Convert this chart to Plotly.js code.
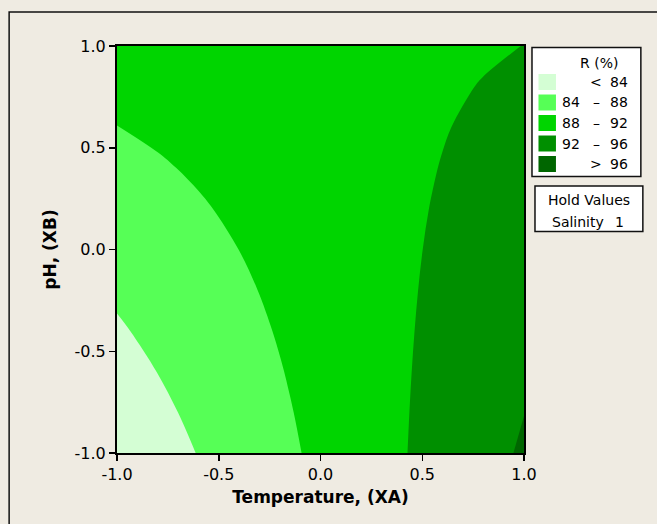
<!DOCTYPE html>
<html>
<head>
<meta charset="utf-8">
<script src="https://cdn.plot.ly/plotly-3.0.1.min.js"></script>
<style>
html,body{margin:0;padding:0;background:#EFEBE2;}
#chart{width:657px;height:524px;}
</style>
</head>
<body>
<div id="chart"></div>
<script>
// Grid of the response surface (Temperature XA, pH XB), Salinity held at 1
var xa = [-1.0, -0.8, -0.6, -0.4, -0.2, 0.0, 0.2, 0.4, 0.6, 0.8, 1.0];
var xb = [-1.0, -0.8, -0.6, -0.4, -0.2, 0.0, 0.2, 0.4, 0.6, 0.8, 1.0];
// R (%) values, one row per pH value
var rows = [
  [81.030, 82.567, 84.104, 85.641, 87.178, 88.715, 90.252, 91.789, 93.326, 94.863, 96.400],
  [81.896, 83.302, 84.709, 86.115, 87.522, 88.928, 90.334, 91.741, 93.147, 94.554, 95.960],
  [82.762, 84.038, 85.314, 86.589, 87.865, 89.141, 90.417, 91.693, 92.968, 94.244, 95.520],
  [83.628, 84.773, 85.918, 87.064, 88.209, 89.354, 90.499, 91.644, 92.790, 93.935, 95.080],
  [84.494, 85.509, 86.523, 87.538, 88.552, 89.567, 90.582, 91.596, 92.611, 93.625, 94.640],
  [85.360, 86.244, 87.128, 88.012, 88.896, 89.780, 90.664, 91.548, 92.432, 93.316, 94.200],
  [86.226, 86.979, 87.733, 88.486, 89.240, 89.993, 90.746, 91.500, 92.253, 93.007, 93.760],
  [87.092, 87.715, 88.338, 88.960, 89.583, 90.206, 90.829, 91.452, 92.074, 92.697, 93.320],
  [87.958, 88.450, 88.942, 89.435, 89.927, 90.419, 90.911, 91.403, 91.896, 92.388, 92.880],
  [88.824, 89.186, 89.547, 89.909, 90.270, 90.632, 90.994, 91.355, 91.717, 92.078, 92.440],
  [89.690, 89.921, 90.152, 90.383, 90.614, 90.845, 91.076, 91.307, 91.538, 91.769, 92.020]
];
var levels = [84, 88, 92, 96];
var bandColors = ['#D4FED4', '#56FF56', '#00D500', '#008F00', '#006600'];
var bandLeft  = ['', '84', '88', '92', ''];
var bandSym   = ['<', '–', '–', '–', '>'];
var bandRight = ['84', '88', '92', '96', '96'];
var tickVals = [-1.0, -0.5, 0.0, 0.5, 1.0];
var tickText = ['-1.0', '-0.5', '0.0', '0.5', '1.0'];
var holdName = 'Salinity';
var holdValue = '1';

var FONT = 'DejaVu Sans, Verdana, sans-serif';

var trace = {
  type: 'contour',
  x: xa, y: xb, z: rows,
  autocontour: false,
  contours: {start: levels[0], end: levels[levels.length-1], size: levels[1]-levels[0], coloring: 'fill', showlines: false},
  line: {width: 0, smoothing: 1},
  colorscale: [[0, bandColors[0]], [0.25, bandColors[1]], [0.5, bandColors[2]], [0.75, bandColors[3]], [1, bandColors[4]]],
  showscale: false,
  hoverinfo: 'skip'
};

// pixel -> paper helpers (plot area 117..524.5 x 46..453)
var L = 117, W = 407.5, T = 46, H = 407;
function px(x){ return (x - L) / W; }
function py(y){ return (T + H - y) / H; }

var shapes = [];
var annotations = [];
// outer frame
shapes.push({type:'rect', xref:'paper', yref:'paper', x0:px(9), x1:px(670), y0:py(540), y1:py(12), line:{color:'#111', width:1.5}, fillcolor:'rgba(0,0,0,0)', layer:'below'});
// legend box
shapes.push({type:'rect', xref:'paper', yref:'paper', x0:px(532.5), x1:px(641.5), y0:py(176.5), y1:py(47.5), line:{color:'#111', width:1.5}, fillcolor:'#FFFFFF'});
// hold values box
shapes.push({type:'rect', xref:'paper', yref:'paper', x0:px(535.5), x1:px(643.5), y0:py(231.5), y1:py(186), line:{color:'#111', width:1.5}, fillcolor:'#FFFFFF'});

var LF = 14;
annotations.push({xref:'paper', yref:'paper', x:px(600), y:py(63), text:'R (%)', showarrow:false, xanchor:'center', yanchor:'middle', font:{family:FONT, size:LF, color:'#000'}});
var rowTop = [74, 94.5, 115, 135.5, 156];
for (var i = 0; i < bandColors.length; i++) {
  var t = rowTop[i], c = t + 8;
  shapes.push({type:'rect', xref:'paper', yref:'paper', x0:px(539), x1:px(556.5), y0:py(t+16), y1:py(t), line:{width:0}, fillcolor:bandColors[i]});
  if (bandLeft[i]) annotations.push({xref:'paper', yref:'paper', x:px(583), y:py(c), text:bandLeft[i], showarrow:false, xanchor:'right', yanchor:'middle', font:{family:FONT, size:LF, color:'#000'}});
  annotations.push({xref:'paper', yref:'paper', x:px(597), y:py(c), text:bandSym[i], showarrow:false, xanchor:'center', yanchor:'middle', font:{family:FONT, size:LF, color:'#000'}});
  annotations.push({xref:'paper', yref:'paper', x:px(631), y:py(c), text:bandRight[i], showarrow:false, xanchor:'right', yanchor:'middle', font:{family:FONT, size:LF, color:'#000'}});
}
annotations.push({xref:'paper', yref:'paper', x:px(590), y:py(200), text:'Hold Values', showarrow:false, xanchor:'center', yanchor:'middle', font:{family:FONT, size:LF, color:'#000'}});
annotations.push({xref:'paper', yref:'paper', x:px(578.5), y:py(221.5), text:holdName, showarrow:false, xanchor:'center', yanchor:'middle', font:{family:FONT, size:LF, color:'#000'}});
annotations.push({xref:'paper', yref:'paper', x:px(620), y:py(221.5), text:holdValue, showarrow:false, xanchor:'center', yanchor:'middle', font:{family:FONT, size:LF, color:'#000'}});

var axisCommon = {
  range: [-1, 1], tickmode: 'array', tickvals: tickVals, ticktext: tickText,
  ticks: 'outside', ticklen: 6, tickwidth: 1.5, tickcolor: '#000',
  showline: true, linecolor: '#000', linewidth: 2, mirror: true,
  showgrid: false, zeroline: false,
  tickfont: {family: FONT, size: 16, color: '#000'}
};

var layout = {
  width: 657, height: 524,
  margin: {l: 117, r: 132.5, t: 46, b: 71, pad: 0},
  paper_bgcolor: '#EFEBE2', plot_bgcolor: '#EFEBE2',
  showlegend: false,
  xaxis: Object.assign({}, axisCommon, {title: {text: '<b>Temperature, (XA)</b>', font: {family: FONT, size: 17, color: '#000'}, standoff: 8}}),
  yaxis: Object.assign({}, axisCommon, {title: {text: '<b>pH, (XB)</b>', font: {family: FONT, size: 17, color: '#000'}, standoff: 14}}),
  shapes: shapes,
  annotations: annotations
};

Plotly.newPlot('chart', [trace], layout, {displayModeBar: false, staticPlot: true});
</script>
</body>
</html>
